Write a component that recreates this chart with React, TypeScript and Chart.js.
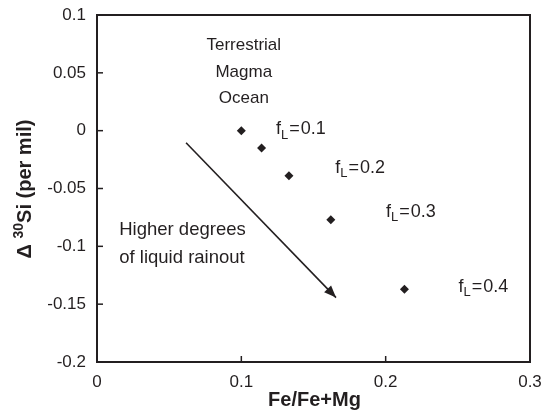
import React, { useEffect, useRef } from "react";
import { Chart, registerables } from "chart.js";

Chart.register(...registerables);

const feRatio = [0.1, 0.114, 0.133, 0.162, 0.213];
const deltaSi = [0, -0.015, -0.039, -0.077, -0.137];
const xTicks = [0, 0.1, 0.2, 0.3];
const yTicks = [0.1, 0.05, 0, -0.05, -0.1, -0.15, -0.2];
const arrowX = [0.0617, 0.1656];
const arrowY = [-0.0104, -0.1443];
const fLValues = ["0.1", "0.2", "0.3", "0.4"];
const fLX = [0.124, 0.165, 0.2003, 0.2505];
const fLY = [0.001, -0.032, -0.07, -0.135];
const magmaLines = ["Terrestrial", "Magma", "Ocean"];
const magmaX = 0.1017;
const magmaY = [0.074, 0.0505, 0.0277];
const rainoutLines = ["Higher degrees", "of liquid rainout"];
const rainoutX = 0.0154;
const rainoutY = [-0.0855, -0.1097];

const FONT = "'Liberation Sans', Arial, Helvetica, sans-serif";
const INK = "#231f20";

const decorPlugin = {
  id: "decor",
  afterDraw(chart: any) {
    const { ctx, chartArea, scales } = chart;
    const { left, right, top, bottom } = chartArea;
    const x = scales.x;
    const y = scales.y;
    ctx.save();
    // frame
    ctx.strokeStyle = INK;
    ctx.lineWidth = 2;
    ctx.strokeRect(left, top, right - left, bottom - top);
    // inward ticks
    ctx.lineWidth = 1.5;
    xTicks.forEach((v) => {
      const px = x.getPixelForValue(v);
      ctx.beginPath();
      ctx.moveTo(px, bottom);
      ctx.lineTo(px, bottom - 6);
      ctx.stroke();
    });
    yTicks.forEach((v) => {
      const py = y.getPixelForValue(v);
      ctx.beginPath();
      ctx.moveTo(left, py);
      ctx.lineTo(left + 6, py);
      ctx.stroke();
    });
    // arrow head
    const x0 = x.getPixelForValue(arrowX[0]);
    const y0 = y.getPixelForValue(arrowY[0]);
    const x1 = x.getPixelForValue(arrowX[1]);
    const y1 = y.getPixelForValue(arrowY[1]);
    const ang = Math.atan2(y1 - y0, x1 - x0);
    const len = 13;
    const half = 0.38;
    ctx.fillStyle = INK;
    ctx.beginPath();
    ctx.moveTo(x1, y1);
    ctx.lineTo(x1 - len * Math.cos(ang - half), y1 - len * Math.sin(ang - half));
    ctx.lineTo(x1 - len * Math.cos(ang + half), y1 - len * Math.sin(ang + half));
    ctx.closePath();
    ctx.fill();

    // text annotations
    ctx.fillStyle = INK;
    ctx.textBaseline = "middle";
    ctx.font = `17px ${FONT}`;
    ctx.textAlign = "center";
    magmaLines.forEach((t, i) => {
      ctx.fillText(t, x.getPixelForValue(magmaX), y.getPixelForValue(magmaY[i]));
    });
    ctx.textAlign = "left";
    ctx.font = `18.5px ${FONT}`;
    rainoutLines.forEach((t, i) => {
      ctx.fillText(t, x.getPixelForValue(rainoutX), y.getPixelForValue(rainoutY[i]));
    });
    fLValues.forEach((val, i) => {
      let px = x.getPixelForValue(fLX[i]);
      const py = y.getPixelForValue(fLY[i]);
      ctx.font = `18px ${FONT}`;
      ctx.fillText("f", px, py);
      px += ctx.measureText("f").width;
      ctx.font = `13px ${FONT}`;
      ctx.fillText("L", px, py + 6);
      px += ctx.measureText("L").width + 1;
      ctx.font = `18px ${FONT}`;
      ctx.fillText("=", px, py);
      px += ctx.measureText("=").width + 1;
      ctx.fillText(val, px, py);
    });

    // axis titles
    ctx.font = `bold 20px ${FONT}`;
    ctx.textAlign = "center";
    ctx.fillText("Fe/Fe+Mg", (left + right) / 2 + 1, 400);

    ctx.save();
    ctx.translate(25, 189);
    ctx.rotate(-Math.PI / 2);
    const p1 = "\u0394 ";
    const p2 = "30";
    const p3 = "Si (per mil)";
    ctx.font = `bold 20px ${FONT}`;
    const w1 = ctx.measureText(p1).width;
    const w3 = ctx.measureText(p3).width;
    ctx.font = `bold 14px ${FONT}`;
    const w2 = ctx.measureText(p2).width;
    let cx = -(w1 + w2 + w3) / 2;
    ctx.textAlign = "left";
    ctx.font = `bold 20px ${FONT}`;
    ctx.fillText(p1, cx, 0);
    cx += w1;
    ctx.font = `bold 14px ${FONT}`;
    ctx.fillText(p2, cx, -6);
    cx += w2;
    ctx.font = `bold 20px ${FONT}`;
    ctx.fillText(p3, cx, 0);
    ctx.restore();

    ctx.restore();
  },
};

export default function App() {
  const ref = useRef<HTMLCanvasElement>(null);
  useEffect(() => {
    if (!ref.current) return;
    const chart = new Chart(ref.current, {
      type: "scatter",
      data: {
        datasets: [
          {
            label: "model",
            data: feRatio.map((v, i) => ({ x: v, y: deltaSi[i] })),
            pointStyle: "rectRot",
            pointRadius: 4.5,
            backgroundColor: INK,
            borderColor: INK,
            borderWidth: 0,
          },
          {
            type: "line",
            label: "arrow",
            data: arrowX.map((v, i) => ({ x: v, y: arrowY[i] })),
            borderColor: INK,
            borderWidth: 1.6,
            pointRadius: 0,
            showLine: true,
            fill: false,
          } as any,
        ],
      },
      options: {
        animation: false,
        responsive: false,
        maintainAspectRatio: false,
        layout: { padding: { left: 0, top: 15, right: 18, bottom: 0 } },
        plugins: {
          legend: { display: false },
          tooltip: { enabled: false },
        },
        scales: {
          x: {
            type: "linear",
            min: 0,
            max: 0.3,
            afterBuildTicks: (s: any) => {
              s.ticks = xTicks.map((v) => ({ value: v }));
            },
            afterFit: (s: any) => {
              s.height = 50;
            },
            grid: { display: false },
            border: { display: false },
            ticks: {
              color: INK,
              font: { family: FONT, size: 17 },
              padding: 2,
              maxRotation: 0,
              callback: (v: any) => String(Number(Number(v).toFixed(2))),
            },
          },
          y: {
            type: "linear",
            min: -0.2,
            max: 0.1,
            afterBuildTicks: (s: any) => {
              s.ticks = yTicks.map((v) => ({ value: v }));
            },
            afterFit: (s: any) => {
              s.width = 97;
            },
            grid: { display: false },
            border: { display: false },
            ticks: {
              color: INK,
              font: { family: FONT, size: 17 },
              padding: 3,
              callback: (v: any) => String(Number(Number(v).toFixed(2))),
            },
          },
        },
      },
      plugins: [decorPlugin],
    });
    return () => chart.destroy();
  }, []);
  return (
    <div style={{ position: "fixed", left: 0, top: 0, width: 548, height: 412, background: "#fff" }}>
      <canvas ref={ref} width={548} height={412} style={{ width: 548, height: 412 }} />
    </div>
  );
}
